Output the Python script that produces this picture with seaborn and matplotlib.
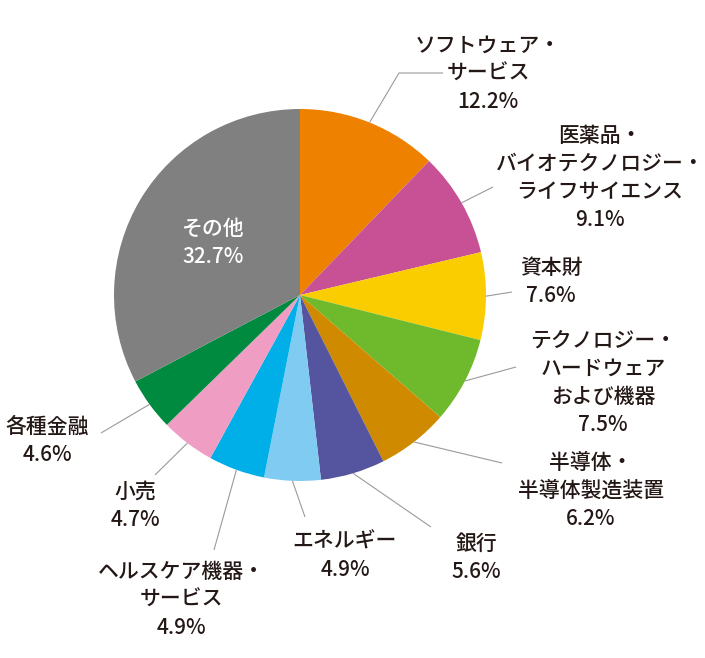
import numpy as np
import matplotlib
matplotlib.use("Agg")
import matplotlib.pyplot as plt
import seaborn as sns

# ---- data ----
sectors = ["ソフトウェア・\nサービス", "医薬品・\nバイオテクノロジー・\nライフサイエンス", "資本財",
           "テクノロジー・\nハードウェア\nおよび機器", "半導体・\n半導体製造装置", "銀行",
           "エネルギー", "ヘルスケア機器・\nサービス", "小売", "各種金融", "その他"]
values = [12.2, 9.1, 7.6, 7.5, 6.2, 5.6, 4.9, 4.9, 4.7, 4.6, 32.7]
colors = ["#EE8100", "#C85196", "#FACD00", "#6FB92C", "#D08A00", "#55549F",
          "#80CBF1", "#00AEE8", "#EF9DC2", "#008A40", "#808080"]

# ---- layout (pixel coordinates, y from top) ----
W, H = 705, 658
CX, CY, R = 300, 295, 186
label_pos = [(488, 74), (600, 178), (551, 282), (603, 383), (591, 491), (476, 558),
             (345, 556), (181, 600), (135, 506), (47, 441), (213, 243)]
leader_pts = [[(399, 73), (443, 73)], [(493, 187)], [(512, 292)], [(516, 367)],
              [(502, 463)], [(431, 527)], [(305, 517)], [(214, 550)], [(155, 475)],
              [(101, 433)], None]

sns.set_theme(style="white")
plt.rcParams["font.family"] = ["Noto Sans CJK JP", "DejaVu Sans"]

fig = plt.figure(figsize=(W / 100, H / 100), dpi=100)
ax = fig.add_axes([0, 0, 1, 1])

def Y(y):
    return H - y

ax.pie(values, colors=colors, startangle=90, counterclock=False,
       center=(CX, Y(CY)), radius=R, wedgeprops=dict(linewidth=0))
ax.set_xlim(0, W)
ax.set_ylim(0, H)
ax.set_aspect("equal")
ax.axis("off")

txt_color = "#231815"
cum = 0.0
total = sum(values)
for name, v, pos, pts in zip(sectors, values, label_pos, leader_pts):
    mid = (cum + v / 2) / total * 2 * np.pi
    cum += v
    is_other = pts is None
    label = f"{name}\n{v:.1f}%"
    ax.text(pos[0], Y(pos[1]), label, ha="center", va="center", fontsize=15,
            fontweight="medium",
            color="white" if is_other else txt_color, linespacing=1.35)
    if not is_other:
        sx = CX + R * np.sin(mid)
        sy = CY - R * np.cos(mid)
        xs = [sx] + [p[0] for p in pts]
        ys = [Y(sy)] + [Y(p[1]) for p in pts]
        ax.plot(xs, ys, color="#9A9A9A", linewidth=0.8, solid_capstyle="butt")

fig.savefig("out.png", dpi=100)
